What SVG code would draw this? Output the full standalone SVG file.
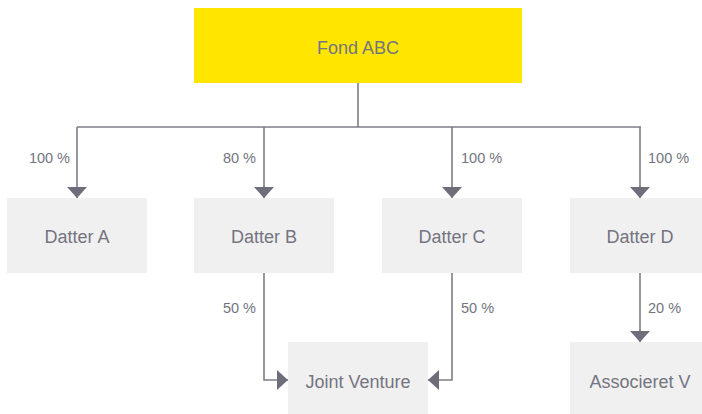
<svg xmlns="http://www.w3.org/2000/svg" width="702" height="414" viewBox="0 0 702 414">
  <defs>
    <style>
      .box { fill: #f0f0f0; }
      .top { fill: #ffe600; }
      .name { font-family: "Liberation Sans", Arial, sans-serif; font-size: 18px; fill: #747480; text-anchor: middle; }
      .pct { font-family: "Liberation Sans", Arial, sans-serif; font-size: 14.5px; fill: #747480; }
      .link { fill: none; stroke: #7d7d89; stroke-width: 1.6; }
    </style>
    <marker id="arrow" markerUnits="userSpaceOnUse" viewBox="0 0 11 20" markerWidth="11" markerHeight="20" refX="11" refY="10" orient="auto">
      <path d="M0,0 L11,10 L0,20 Z" fill="#6e6e7a"/>
    </marker>
  </defs>

  <!-- nodes -->
  <g id="fond-abc">
    <rect class="top" x="194" y="8" width="328" height="75"/>
    <text class="name" x="358" y="54">Fond ABC</text>
  </g>
  <g id="datter-a">
    <rect class="box" x="7" y="198" width="140" height="75"/>
    <text class="name" x="77" y="243">Datter A</text>
  </g>
  <g id="datter-b">
    <rect class="box" x="194" y="198" width="140" height="75"/>
    <text class="name" x="264" y="243">Datter B</text>
  </g>
  <g id="datter-c">
    <rect class="box" x="382" y="198" width="140" height="75"/>
    <text class="name" x="452" y="243">Datter C</text>
  </g>
  <g id="datter-d">
    <rect class="box" x="570" y="198" width="140" height="75"/>
    <text class="name" x="640" y="243">Datter D</text>
  </g>
  <g id="joint-venture">
    <rect class="box" x="288" y="342" width="140" height="75"/>
    <text class="name" x="358" y="388">Joint Venture</text>
  </g>
  <g id="associeret-v">
    <rect class="box" x="570" y="342" width="140" height="75"/>
    <text class="name" x="640" y="388">Associeret V</text>
  </g>

  <!-- connectors -->
  <g id="connectors">
    <path class="link" d="M358,83 V127 M77,127 H641"/>
    <path class="link" d="M77,127 V198" marker-end="url(#arrow)"/>
    <path class="link" d="M264,127 V198" marker-end="url(#arrow)"/>
    <path class="link" d="M452,127 V198" marker-end="url(#arrow)"/>
    <path class="link" d="M640,127 V198" marker-end="url(#arrow)"/>
    <path class="link" d="M264,273 V380 H288" marker-end="url(#arrow)"/>
    <path class="link" d="M452,273 V380 H428" marker-end="url(#arrow)"/>
    <path class="link" d="M640,273 V342" marker-end="url(#arrow)"/>

    <text class="pct" x="70" y="163" text-anchor="end">100 %</text>
    <text class="pct" x="256" y="163" text-anchor="end">80 %</text>
    <text class="pct" x="461" y="163">100 %</text>
    <text class="pct" x="648" y="163">100 %</text>
    <text class="pct" x="256" y="313" text-anchor="end">50 %</text>
    <text class="pct" x="461" y="313">50 %</text>
    <text class="pct" x="648" y="313">20 %</text>
  </g>
</svg>
